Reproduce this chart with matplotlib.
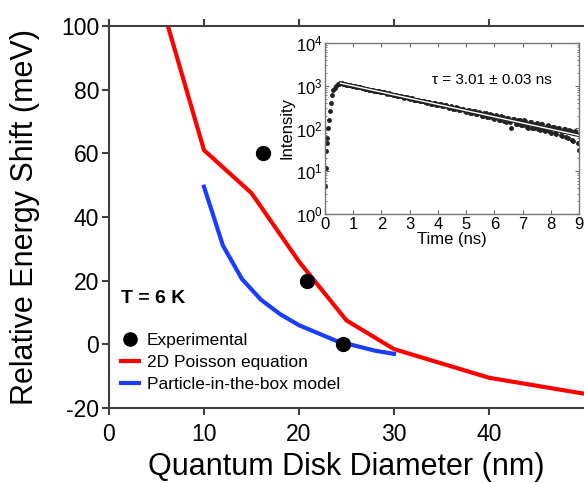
import matplotlib
matplotlib.use("Agg")
import matplotlib.pyplot as plt
from matplotlib.lines import Line2D

plt.rcParams['font.family'] = ['Liberation Sans', 'DejaVu Sans']
plt.rcParams['mathtext.fontset'] = 'custom'
plt.rcParams['mathtext.rm'] = 'Liberation Sans'
plt.rcParams['mathtext.it'] = 'Liberation Sans:italic'
plt.rcParams['axes.unicode_minus'] = False

# main plot data
poisson_d = [6.2, 10, 15, 20, 25, 30, 40, 50]
poisson_e = [100, 61, 47.5, 26, 7.5, -1.5, -10.5, -15.5]

box_d = [10, 12, 14, 16, 18, 20, 22, 24, 26, 28, 30]
box_e = [49.5, 31, 20.5, 14, 9.5, 6, 3.5, 1, -0.5, -2, -3]

exp_d = [16.2, 20.8, 24.6]
exp_e = [60, 20, 0]

# inset (time-resolved PL) data
rise_t = [0.0, 0.02, 0.04, 0.06, 0.08, 0.1, 0.13, 0.16, 0.2, 0.25, 0.3, 0.35, 0.4, 0.45, 0.5]
rise_i = [4.5, 12, 30, 45, 60, 100, 160, 250, 400, 600, 780, 900, 1000, 1080, 1120]

decay_t = [0.6, 0.7, 0.8, 0.9, 1.0, 1.1, 1.2, 1.3, 1.4, 1.5, 1.6, 1.7, 1.8, 1.9,
           2.0, 2.1, 2.2, 2.3, 2.4, 2.5, 2.6, 2.7, 2.8, 2.9, 3.0, 3.1, 3.2, 3.3,
           3.4, 3.5, 3.6, 3.7, 3.8, 3.9, 4.0, 4.1, 4.2, 4.3, 4.4, 4.5, 4.6, 4.7,
           4.8, 4.9, 5.0, 5.1, 5.2, 5.3, 5.4, 5.5, 5.6, 5.7, 5.8, 5.9, 6.0, 6.1,
           6.2, 6.3, 6.4, 6.5, 6.6, 6.7, 6.8, 6.9, 7.0, 7.1, 7.2, 7.3, 7.4, 7.5,
           7.6, 7.7, 7.8, 7.9, 8.0, 8.1, 8.2, 8.3, 8.4, 8.5, 8.6, 8.7, 8.8, 8.9, 9.0]
decay_i = [1150, 1120, 1060, 1040, 1000, 950, 940, 900, 860, 850, 800, 790, 750, 745,
           700, 695, 650, 655, 610, 610, 570, 575, 530, 540, 500, 505, 465, 470,
           430, 445, 405, 415, 375, 390, 350, 365, 330, 345, 305, 325, 285, 300,
           265, 285, 245, 270, 230, 255, 215, 235, 195, 225, 185, 210, 170, 200,
           160, 185, 145, 180, 100, 165, 125, 160, 120, 150, 105, 140, 100, 135,
           92, 125, 88, 118, 80, 110, 75, 100, 68, 95, 60, 88, 50, 80, 32]

decay2_t = [0.65, 0.75, 0.85, 0.95, 1.05, 1.15, 1.25, 1.35, 1.45, 1.55, 1.65, 1.75,
            1.85, 1.95, 2.05, 2.15, 2.25, 2.35, 2.45, 2.55, 2.65, 2.75, 2.85, 2.95,
            3.05, 3.15, 3.25, 3.35, 3.45, 3.55, 3.65, 3.75, 3.85, 3.95, 4.05, 4.15,
            4.25, 4.35, 4.45, 4.55, 4.65, 4.75, 4.85, 4.95, 5.05, 5.15, 5.25, 5.35,
            5.45, 5.55, 5.65, 5.75, 5.85, 5.95, 6.05, 6.15, 6.25, 6.35, 6.45, 6.55,
            6.65, 6.75, 6.85, 6.95, 7.05, 7.15, 7.25, 7.35, 7.45, 7.55, 7.65, 7.75,
            7.85, 7.95, 8.05, 8.15, 8.25, 8.35, 8.45, 8.55, 8.65, 8.75, 8.85, 8.95]
decay2_i = [1110, 1060, 1050, 990, 985, 930, 915, 870, 860, 815, 805, 760,
            755, 715, 705, 670, 665, 625, 620, 585, 580, 545, 545, 510,
            510, 475, 475, 440, 445, 410, 420, 380, 395, 355, 375, 335,
            350, 310, 330, 290, 310, 270, 290, 250, 275, 235, 255, 215,
            245, 200, 230, 190, 215, 175, 205, 160, 195, 150, 180, 140,
            170, 130, 160, 120, 155, 110, 145, 105, 130, 95, 125, 90,
            115, 85, 110, 78, 105, 70, 95, 62, 90, 55, 85, 45]

fit_t = [0.55, 9.0]
fit_i = [1150, 69]

fig = plt.figure(figsize=(5.84, 4.83), dpi=100)
ax = fig.add_axes([0.1866, 0.1553, 0.8134, 0.791])

ax.plot(poisson_d, poisson_e, color='#ff0000', lw=3, solid_joinstyle='miter')
ax.plot(box_d, box_e, color='#1a3cff', lw=3)
ax.plot(exp_d, exp_e, 'o', color='black', ms=10)

ax.set_xlim(0, 50)
ax.set_ylim(-20, 100)
ax.set_xticks([0, 10, 20, 30, 40])
ax.set_yticks([-20, 0, 20, 40, 60, 80, 100])
ax.set_xlabel('Quantum Disk Diameter (nm)', fontsize=22, va='center')
ax.xaxis.set_label_coords(0.5, -0.155)
ax.set_ylabel('Relative Energy Shift (meV)', fontsize=22, va='center')
ax.yaxis.set_label_coords(-0.177, 0.5)
ax.tick_params(axis='both', labelsize=16.5, direction='out', length=5, width=1.5,
               color='#404040', top=True)
ax.tick_params(axis='x', pad=6)
ax.tick_params(axis='y', pad=2)
ax.spines['right'].set_visible(False)
for s in ['left', 'bottom', 'top']:
    ax.spines[s].set_color('#404040')
    ax.spines[s].set_linewidth(1.5)

ax.text(1.3, 14.5, 'T = 6 K', fontsize=14, fontweight='bold', va='center')

handles = [Line2D([], [], marker='o', color='black', ls='none', ms=9.5),
           Line2D([], [], color='#ff0000', lw=3),
           Line2D([], [], color='#1a3cff', lw=3)]
labels = ['Experimental', '2D Poisson equation', 'Particle-in-the-box model']
ax.legend(handles, labels, loc='upper left', bbox_to_anchor=(0.025, 0.196),
          frameon=False, fontsize=12.5, borderaxespad=0, borderpad=0,
          handlelength=1.05, handletextpad=0.45, labelspacing=0.4)

# inset
ins = fig.add_axes([0.5565, 0.557, 0.435, 0.354])
ins.plot(rise_t, rise_i, 'o', color='#222222', ms=2.5)
ins.plot(decay_t, decay_i, 'o', color='#222222', ms=2.5)
ins.plot(decay2_t, decay2_i, 'o', color='#222222', ms=2.5)
ins.plot(fit_t, fit_i, color='#222222', lw=2.6)
ins.plot(fit_t, fit_i, color='white', lw=1.0)
ins.set_yscale('log')
ins.set_xlim(0, 9)
ins.set_ylim(1, 1e4)
ins.set_xticks(range(10))
ins.set_yticks([1, 10, 100, 1000, 10000])
ins.set_yticklabels(['$10^{0}$', '$10^{1}$', '$10^{2}$', '$10^{3}$', '$10^{4}$'])
ins.xaxis.set_minor_locator(matplotlib.ticker.NullLocator())
ins.tick_params(axis='both', which='major', labelsize=12, direction='in', length=3,
                width=0.8, color='#666666', top=True, right=True, pad=1.5)
ins.tick_params(axis='x', which='major', pad=2.5)
ins.tick_params(axis='y', which='minor', direction='in', length=1.5, width=0.6,
                color='#666666', right=True, labelleft=False)
for s in ins.spines.values():
    s.set_color('#777777')
    s.set_linewidth(1.0)
ins.set_xlabel('Time (ns)', fontsize=12, labelpad=0)
ins.set_ylabel('Intensity', fontsize=12, va='center')
ins.yaxis.set_label_coords(-0.148, 0.5)
ins.text(0.655, 0.784, 'τ = 3.01 ± 0.03 ns', transform=ins.transAxes,
         fontsize=11, ha='center', va='center')

fig.savefig('out.png', dpi=100)
